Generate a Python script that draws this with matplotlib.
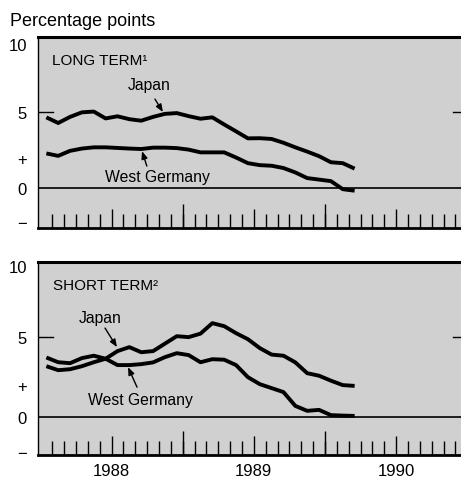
import matplotlib
matplotlib.use("Agg")
import matplotlib.pyplot as plt
import numpy as np

plt.rcParams['font.family'] = ['Liberation Sans', 'DejaVu Sans']

# ---- data: monthly, Jan 1988 .. Mar 1990 (interest differentials, percentage points)
months = np.arange(27)
x_years = 1988 + (months + 0.5) / 12.0

long_japan = [4.67, 4.30, 4.70, 5.00, 5.05, 4.60, 4.74, 4.55, 4.45, 4.70, 4.90, 4.95,
              4.75, 4.58, 4.67, 4.20, 3.75, 3.29, 3.30, 3.25, 3.00, 2.70, 2.42, 2.12,
              1.72, 1.66, 1.30]
long_wg = [2.30, 2.14, 2.47, 2.62, 2.70, 2.70, 2.66, 2.62, 2.59, 2.68, 2.68, 2.65,
           2.55, 2.37, 2.37, 2.37, 2.03, 1.66, 1.53, 1.49, 1.34, 1.05, 0.68, 0.58,
           0.48, -0.05, -0.15]
short_japan = [3.19, 2.94, 3.00, 3.19, 3.44, 3.66, 4.14, 4.39, 4.07, 4.14, 4.61, 5.08,
               5.02, 5.24, 5.90, 5.71, 5.27, 4.89, 4.33, 3.92, 3.85, 3.43, 2.75, 2.59,
               2.28, 2.00, 1.95]
short_wg = [3.74, 3.44, 3.38, 3.70, 3.85, 3.66, 3.26, 3.26, 3.32, 3.43, 3.76, 4.01,
            3.89, 3.44, 3.63, 3.60, 3.26, 2.50, 2.06, 1.81, 1.56, 0.69, 0.38, 0.44,
            0.11, 0.08, 0.06]

ytick_vals = [9.5, 5, 2, 0, -2.2]
ytick_labels = ['10', '5', '+', '0', '\u2212']
year_labels = ['1988', '1989', '1990']
year_label_pos = [1988.5, 1989.5, 1990.5]
year_bounds = [1989, 1990]
month_ticks = 1988 + np.arange(1, 36) / 12.0

W, H = 461, 481
fig = plt.figure(figsize=(W / 100, H / 100), dpi=100)

bg = '#d0d0d0'

def px_axes(left, top, right, bottom):
    return fig.add_axes([left / W, 1 - bottom / H, (right - left) / W, (bottom - top) / H])

ax1 = px_axes(38, 38, 461, 229)
ax2 = px_axes(38, 263, 461, 456)

panels = [
    (ax1, long_japan, long_wg, (-2.6, 9.95), 'LONG TERM\u00b9',
     (1988.082, 8.44),
     (1988.763, 6.80), (1988.805, 5.87), (1988.861, 5.02),
     (1988.819, 0.81), (1988.748, 1.47), (1988.714, 2.45), False),
    (ax2, short_japan, short_wg, (-2.4, 9.75), 'SHORT TERM\u00b2',
     (1988.089, 8.29),
     (1988.419, 6.28), (1988.454, 5.59), (1988.538, 4.39),
     (1988.700, 1.11), (1988.679, 1.87), (1988.616, 3.13), True),
]

for (ax, jp, wg, ylim, title, tpos, jtxt, ja0, ja1, wtxt, wa0, wa1, show_years) in panels:
    ax.set_facecolor(bg)
    ax.set_xlim(1987.983, 1990.956)
    ax.set_ylim(*ylim)
    ax.plot(x_years, jp, color='black', lw=2.8, solid_joinstyle='round', solid_capstyle='butt')
    ax.plot(x_years, wg, color='black', lw=2.8, solid_joinstyle='round', solid_capstyle='butt')
    ax.axhline(0, color='black', lw=1.2)
    # small marks at 5
    ax.axhline(5, xmin=0, xmax=0.036, color='black', lw=1.0)
    ax.axhline(5, xmin=0.981, xmax=1.0, color='black', lw=1.0)

    ax.spines['right'].set_visible(False)
    ax.spines['top'].set_linewidth(2.2)
    ax.spines['bottom'].set_linewidth(2.0)
    ax.spines['left'].set_linewidth(1.0)

    ax.set_yticks(ytick_vals)
    ax.set_yticklabels(ytick_labels, fontsize=12)
    ax.tick_params(axis='y', length=0, pad=8)

    ax.set_xticks(year_label_pos)
    ax.set_xticks(month_ticks, minor=True)
    if show_years:
        ax.set_xticklabels(year_labels, fontsize=12)
    else:
        ax.set_xticklabels([])
    ax.tick_params(axis='x', which='major', direction='in', length=13.7, width=1.0, pad=6)
    ax.tick_params(axis='x', which='minor', direction='in', length=10, width=1.0)

    sec = ax.secondary_xaxis('bottom')
    sec.set_xticks(year_bounds)
    sec.set_xticklabels([])
    sec.tick_params(direction='in', length=17.3, width=1.0)
    sec.spines['bottom'].set_visible(False)

    ax.text(tpos[0], tpos[1], title, fontsize=11, ha='left', va='center')
    ax.text(jtxt[0], jtxt[1], 'Japan', fontsize=11.3, ha='center', va='center')
    ax.text(wtxt[0], wtxt[1], 'West Germany', fontsize=11.3, ha='center', va='center')
    arrow = dict(arrowstyle='-|>,head_length=0.45,head_width=0.18', lw=1.0,
                 color='black', shrinkA=0, shrinkB=0)
    ax.annotate('', xy=ja1, xytext=ja0, arrowprops=arrow)
    ax.annotate('', xy=wa1, xytext=wa0, arrowprops=arrow)

fig.text(10 / W, 1 - 21 / H, 'Percentage points', fontsize=13, ha='left', va='center')

fig.savefig('out.png', dpi=100, facecolor='white')
